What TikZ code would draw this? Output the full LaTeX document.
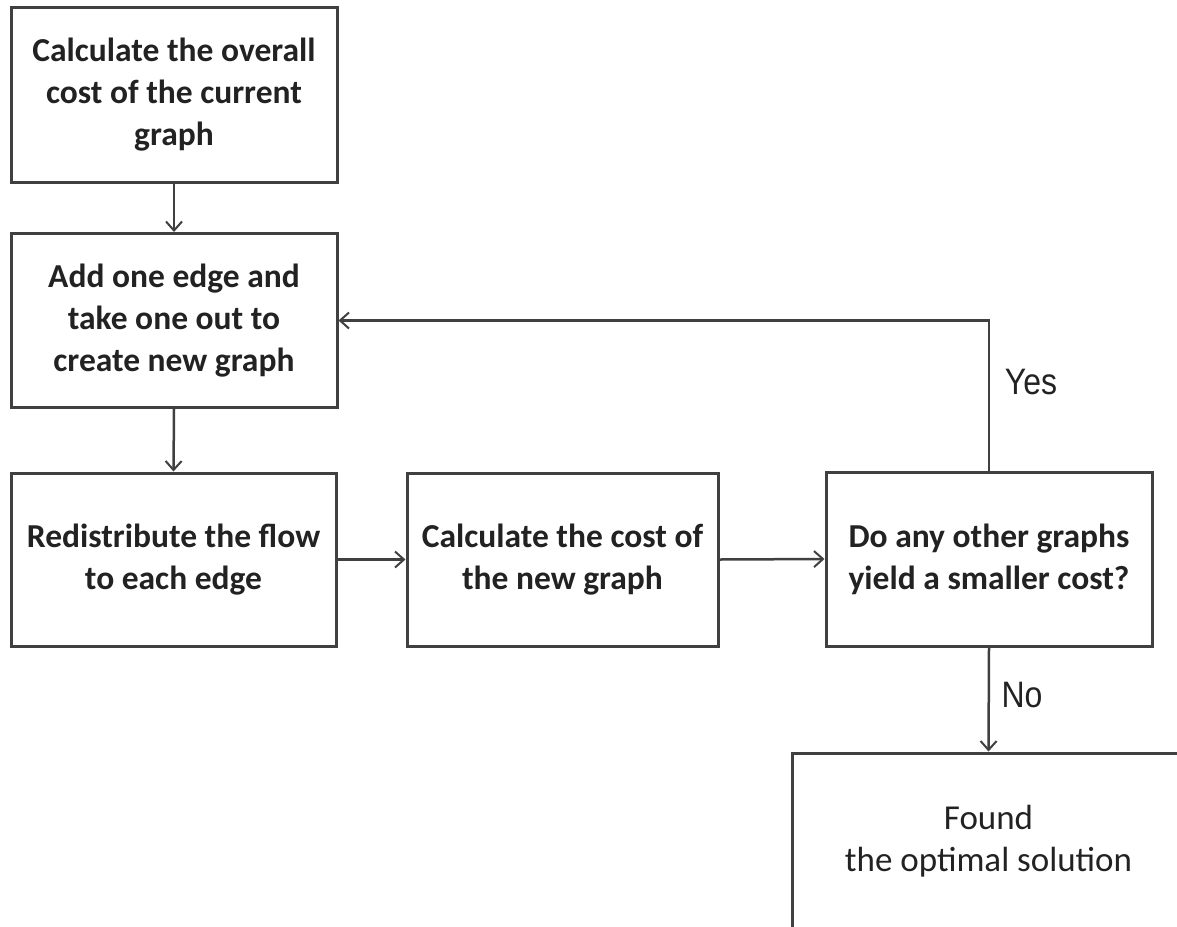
\documentclass[tikz,border=0pt]{standalone}
\usepackage{fontspec}
\setmainfont{Carlito}
\newfontfamily\arialfont{Liberation Sans}
\usetikzlibrary{arrows.meta}
\definecolor{linec}{HTML}{404040}
\definecolor{textc}{HTML}{222222}
\tikzset{
  box/.style={draw=linec, line width=3pt, align=center, text=textc,
    font=\fontsize{33.5}{42}\selectfont\bfseries, inner sep=0pt},
  conn/.style={draw=linec, line width=2.5pt, -{Straight Barb[length=9pt,width=16pt,line width=2pt]}},
  lbl/.style={font=\arialfont\fontsize{32}{36}\selectfont, text=textc, yscale=1.15}
}
\begin{document}
\begin{tikzpicture}[x=1pt,y=-1pt]
\useasboundingbox (0,0) rectangle (1177,926);
\node[box, minimum width=326pt, minimum height=175pt] (b1) at (174,94.5)
  {Calculate the overall\\cost of the current\\graph};
\node[box, minimum width=326pt, minimum height=174pt] (b2) at (174,320.5)
  {Add one edge and\\take one out to\\create new graph};
\node[box, minimum width=325pt, minimum height=173pt] (b3) at (173.5,559.5)
  {Redistribute the flow\\to each edge};
\node[box, minimum width=311pt, minimum height=173pt] (b4) at (562.5,559.5)
  {Calculate the cost of\\the new graph};
\node[box, minimum width=326pt, minimum height=174pt] (b5) at (989,559)
  {Do any other graphs\\yield a smaller cost?};
\node[box, font=\fontsize{35}{42}\selectfont, minimum width=393pt, minimum height=177pt] (b6) at (988.5,841.5)
  {Found\\the optimal solution};
\draw[conn] (b1.south) -- (b2.north);
\draw[conn] (b2.south) -- (b3.north);
\draw[conn] (b3.east) -- (b4.west);
\draw[conn] (b4.east) -- (b5.west);
\draw[conn] (b5.north) |- (b2.east);
\draw[conn] (b5.south) -- (b6.north);
\node[lbl] (yes) at (1031,382) {Yes};
\node[lbl] (no) at (1022,695) {No};
\end{tikzpicture}
\end{document}
